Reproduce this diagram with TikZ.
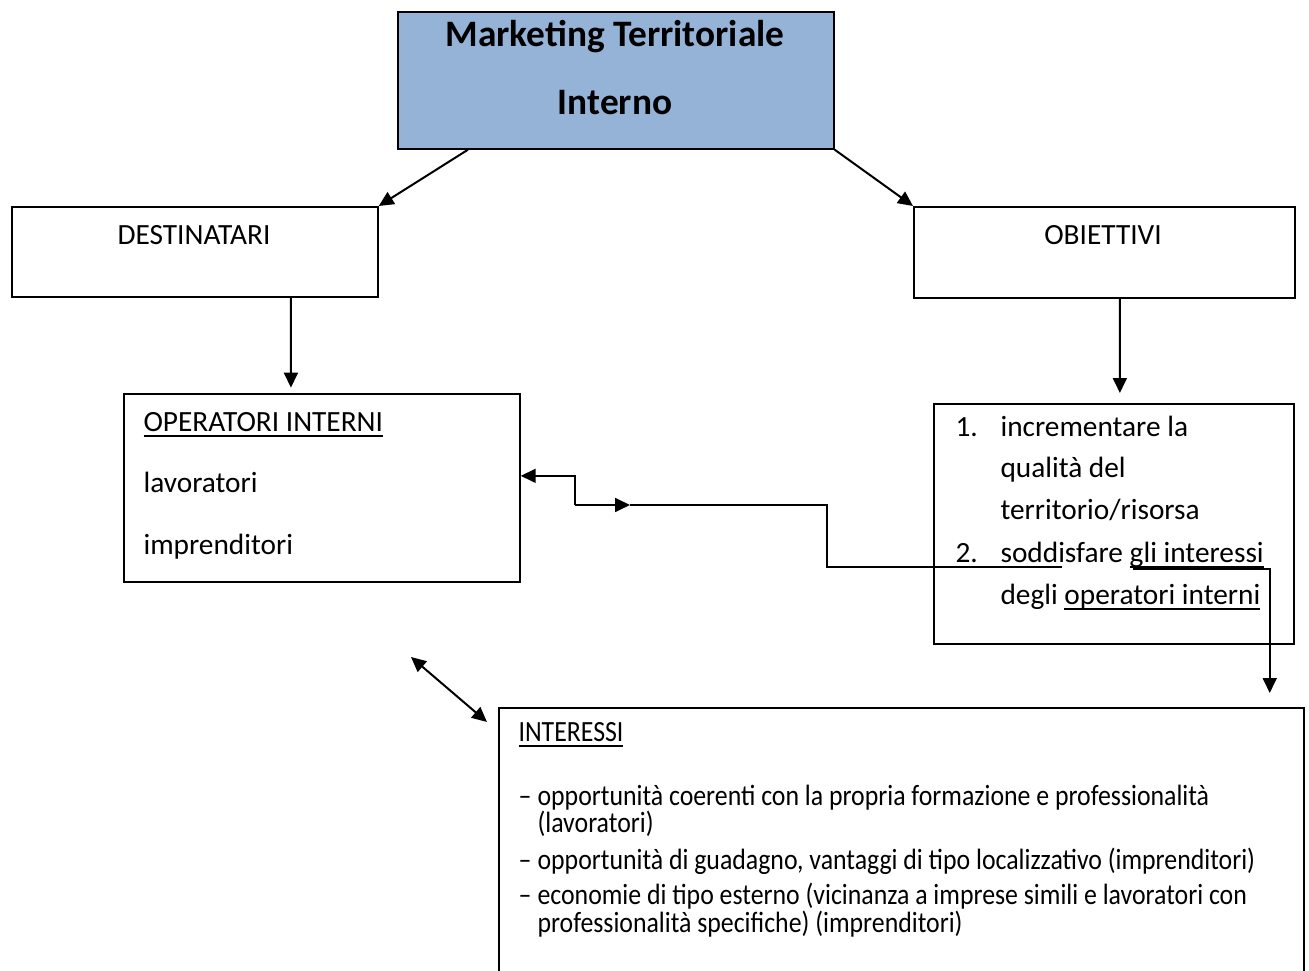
\documentclass[tikz,border=0pt]{standalone}
\usepackage{fontspec}
\setmainfont{Carlito}
\newfontfamily\narrowfont[FakeStretch=0.88]{Carlito}
\usetikzlibrary{arrows.meta}
\definecolor{titlefill}{HTML}{95B3D7}
% underline drawn at a fixed depth below the baseline
\newcommand{\ulin}[1]{\setbox0\hbox{#1}\rlap{\rule[-1.7pt]{\wd0}{0.5pt}}\box0}
\begin{document}
\begin{tikzpicture}[x=0.375pt,y=-0.375pt,
  box/.style={draw=black, line width=0.65pt, anchor=north west, inner sep=0pt},
  arr/.style={line width=0.75pt, -{Triangle[length=5.6pt,width=5.2pt]}},
  darr/.style={line width=0.75pt, {Triangle[length=5.6pt,width=5.2pt]}-{Triangle[length=5.6pt,width=5.2pt]}},
  link/.style={line width=0.75pt},
  txt/.style={anchor=base west, inner sep=0pt, font=\fontsize{11}{13}\selectfont},
  ntxt/.style={anchor=base west, inner sep=0pt, font=\narrowfont\fontsize{11}{13}\selectfont},
  ctxt/.style={anchor=base, inner sep=0pt, font=\fontsize{11}{13}\selectfont},
  ttl/.style={anchor=base, inner sep=0pt, font=\fontsize{14}{16}\selectfont\bfseries}]
\clip (0,0) rectangle (1309,971);
\fill[white] (0,0) rectangle (1309,971);

% boxes
\node[box, fill=titlefill, minimum width=163.5pt, minimum height=51.375pt] (top) at (397,11) {};
\node[box, minimum width=137.25pt, minimum height=33.75pt] (dest) at (11,206) {};
\node[box, minimum width=142.875pt, minimum height=34.125pt] (obj) at (913,206) {};
\node[box, minimum width=148.5pt, minimum height=70.5pt] (oper) at (123,393) {};
\node[box, minimum width=135pt, minimum height=90pt] (goals) at (933,403) {};
\node[box, minimum width=301.875pt, minimum height=110pt] (inter) at (498,707) {};

% title
\node[ttl] (t1) at (615,47) {Marketing Territoriale};
\node[ttl] (t2) at (615,115) {Interno};

% headings
\node[ctxt] (destlbl) at (194,245) {DESTINATARI};
\node[ctxt] (objlbl) at (1103,245) {OBIETTIVI};

% operators
\node[txt] (op1) at (143,432) {\ulin{OPERATORI INTERNI}};
\node[txt] (op2) at (143,493) {lavoratori};
\node[txt] (op3) at (143,555) {imprenditori};

% goals list
\node[txt] (n1) at (955,437) {1.};
\node[txt] (g1) at (1000,437) {incrementare la};
\node[txt] (g2) at (1000,478) {qualità del};
\node[txt] (g3) at (1000,520) {territorio/risorsa};
\node[txt] (n2) at (955,563) {2.};
\node[txt] (g4) at (1000,563) {soddisfare \ulin{gli interessi}};
\node[txt] (g5) at (1000,605) {degli \ulin{operatori interni}};

% interests
\node[ntxt] (i0) at (518,742) {\ulin{INTERESSI}};
\node[ntxt] (d1) at (518,806) {–};
\node[ntxt] (i1) at (537,806) {opportunità coerenti con la propria formazione e professionalità};
\node[ntxt] (i2) at (537,833) {(lavoratori)};
\node[ntxt] (d2) at (518,869) {–};
\node[ntxt] (i3) at (537,869) {opportunità di guadagno, vantaggi di tipo localizzativo (imprenditori)};
\node[ntxt] (d3) at (518,905) {–};
\node[ntxt] (i4) at (537,905) {economie di tipo esterno (vicinanza a imprese simili e lavoratori con};
\node[ntxt] (i5) at (537,933) {professionalità specifiche) (imprenditori)};

% connectors from the title box
\draw[arr] ([xshift=26.6pt]top.south west) -- (dest.north east);
\draw[arr] (top.south east) -- (obj.north west);
\draw[arr] ([xshift=36pt]dest.south) -- ([xshift=-11.6pt,yshift=2pt]oper.north);
\draw[arr] ([xshift=5.8pt]obj.south) -- ([xshift=2.25pt,yshift=3.75pt]goals.north);

% elbow link between operators and goals
\coordinate (b1) at (575,505);
\coordinate (b2) at (630,505);
\coordinate (b4) at (827,567);
\coordinate (b5) at (1062,567);
\draw[arr] (b1) |- ([yshift=4.5pt]oper.east);
\draw[arr] (b1) -- (b2);
\draw[link] (b2) -| (b4) -- (b5);

% link from goals down to interests
\coordinate (c1) at (1133,569);
\draw[arr] (c1) -| ([xshift=-13.125pt,yshift=5.25pt]inter.north east);

% two-way arrow towards interests
\coordinate (e1) at (411,657);
\draw[darr] (e1) -- ([xshift=-4.125pt,yshift=-5.625pt]inter.north west);
\end{tikzpicture}
\end{document}
